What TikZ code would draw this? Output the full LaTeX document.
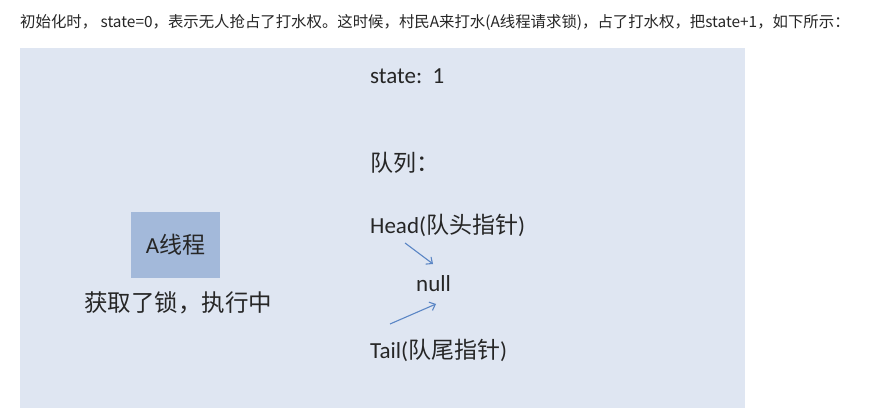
\documentclass[tikz,border=0pt]{standalone}
\usepackage{fontspec}
\setmainfont{Carlito}
\newfontfamily\cjk{Noto Sans CJK SC}
\definecolor{panel}{HTML}{DFE6F2}
\definecolor{boxfill}{HTML}{A3B9DA}
\definecolor{arrowc}{HTML}{5B86C5}
\definecolor{txt}{HTML}{262626}
\tikzset{
  lbl/.style={anchor=west, inner sep=0pt, text=txt, font=\fontsize{23}{27}\selectfont},
  ptr/.style={draw=arrowc, line width=1.1pt, -{Straight Barb[length=5pt,width=9pt]}},
}
\usetikzlibrary{arrows.meta}
\begin{document}
\begin{tikzpicture}[x=1pt,y=-1pt]
\useasboundingbox[fill=white] (0,0) rectangle (891,414);
\node[anchor=west, inner sep=0pt, text=txt, font=\cjk\fontsize{15.4}{18}\selectfont] (top) at (20,22)
  {初始化时， state=0，表示无人抢占了打水权。这时候，村民A来打水(A线程请求锁)，占了打水权，把state+1，如下所示：};
\fill[panel] (20,48) rectangle (745,408);
\node[fill=boxfill, minimum width=89pt, minimum height=66pt, inner sep=0pt, text=txt,
  font=\fontsize{23}{27}\selectfont] (thr) at (175.5,245) {A{\cjk 线程}};
\node[inner sep=0pt, text=txt, font=\cjk\fontsize{23.5}{27}\selectfont] (st) at (178,303) {获取了锁，执行中};
\node[lbl] (state) at (370,76) {state:\ \ 1};
\node[lbl] (queue) at (370,163) {{\cjk 队列：}};
\node[lbl] (head) at (370,225) {Head({\cjk 队头指针})};
\node[lbl] (null) at (416,284) {null};
\node[lbl] (tail) at (370,350) {Tail({\cjk 队尾指针})};
\coordinate (hs) at (405,243);
\coordinate (he) at (433,264);
\coordinate (ts) at (390,324);
\coordinate (te) at (436,304);
\draw[ptr] (hs) -- (he);
\draw[ptr] (ts) -- (te);
\end{tikzpicture}
\end{document}
